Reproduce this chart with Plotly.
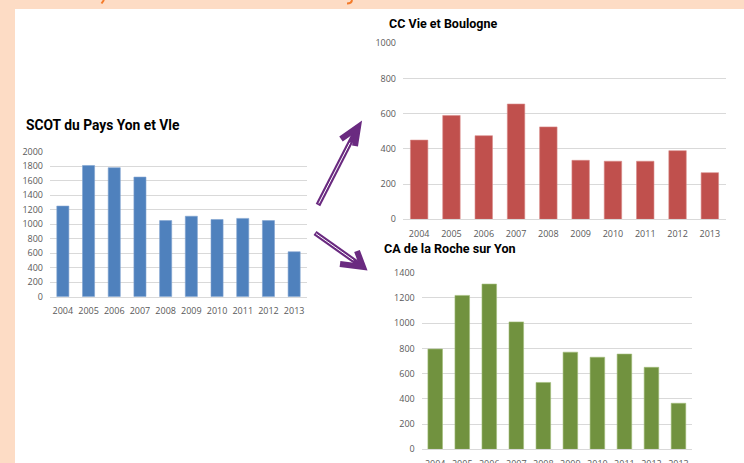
import plotly.graph_objects as go

W, H = 744, 463

years = ["2004", "2005", "2006", "2007", "2008", "2009", "2010", "2011", "2012", "2013"]
scot_values = [1250, 1810, 1780, 1650, 1050, 1110, 1065, 1080, 1050, 620]
ccvb_values = [450, 590, 475, 655, 525, 335, 330, 330, 390, 265]
carsy_values = [795, 1220, 1310, 1010, 530, 770, 730, 755, 650, 365]

scot_title = "SCOT du Pays Yon et Vle"
ccvb_title = "CC Vie et Boulogne"
carsy_title = "CA de la Roche sur Yon"

BLUE = "#4F81BD"
RED = "#C0504D"
GREEN = "#71923F"
PEACH = "#FDDCC5"
PURPLE = "#6A2A80"
GRID = "#D9D9D9"
TICK = "#595959"


def px(x):
    return x / W


def py(y):
    return (H - y) / H


fig = go.Figure()

fig.add_trace(go.Bar(x=years, y=scot_values, marker=dict(color=BLUE, line=dict(width=0.6, color="#7FA3D0")),
                     width=0.47, xaxis="x", yaxis="y"))
fig.add_trace(go.Bar(x=years, y=ccvb_values, marker=dict(color=RED, line=dict(width=0.6, color="#D98A88")),
                     width=0.54, xaxis="x2", yaxis="y2"))
fig.add_trace(go.Bar(x=years, y=carsy_values, marker=dict(color=GREEN, line=dict(width=0.6, color="#A3BD7A")),
                     width=0.54, xaxis="x3", yaxis="y3"))

tick_font = dict(family="Open Sans", size=9, color=TICK)

xcommon = dict(type="category", showgrid=False, zeroline=False, showline=True, automargin=False,
               linecolor=GRID, linewidth=1, ticks="", tickfont=tick_font, fixedrange=True)
ycommon = dict(showgrid=True, gridcolor=GRID, gridwidth=1, zeroline=False, showline=False,
               automargin=False, ticks="", tickfont=tick_font, fixedrange=True,
               ticklabelstandoff=6)

shapes = []
# peach frame around the white panel
shapes.append(dict(type="rect", xref="paper", yref="paper", x0=0, x1=1, y0=py(9), y1=1,
                   fillcolor=PEACH, line=dict(width=0), layer="below"))
shapes.append(dict(type="rect", xref="paper", yref="paper", x0=0, x1=px(15), y0=0, y1=1,
                   fillcolor=PEACH, line=dict(width=0), layer="below"))
# descenders of the heading cut by the panel edge
shapes.append(dict(type="path", xref="paper", yref="paper",
                   path=f"M {px(104)} {py(0)} L {px(101.5)} {py(3.5)}",
                   line=dict(color="#F47B2A", width=2)))
shapes.append(dict(type="path", xref="paper", yref="paper",
                   path=f"M {px(352)} {py(0)} Q {px(351.5)} {py(3.5)} {px(347)} {py(3.5)}",
                   line=dict(color="#F47B2A", width=2)))


def arrow(tail, tip, arm1, arm2):
    (x0, y0), (x1, y1) = tail, tip
    shaft = f"M {px(x0)} {py(y0)} L {px(x1)} {py(y1)}"
    head = (f"M {px(arm1[0])} {py(arm1[1])} L {px(x1)} {py(y1)} "
            f"L {px(arm2[0])} {py(arm2[1])}")
    inner = (f"M {px(x0 + (x1 - x0) * 0.02)} {py(y0 + (y1 - y0) * 0.02)} "
             f"L {px(x0 + (x1 - x0) * 0.80)} {py(y0 + (y1 - y0) * 0.80)}")
    return [
        dict(type="path", xref="paper", yref="paper", path=shaft,
             line=dict(color=PURPLE, width=5)),
        dict(type="path", xref="paper", yref="paper", path=head,
             line=dict(color=PURPLE, width=6)),
        dict(type="path", xref="paper", yref="paper", path=inner,
             line=dict(color="white", width=1)),
    ]


shapes += arrow((318, 205), (358, 127), (341, 139), (355, 146))
shapes += arrow((315, 233), (363, 267), (357, 251), (340, 264))

annotations = [
    dict(text=scot_title, xref="paper", yref="paper", x=px(24), y=py(125), xanchor="left",
         yanchor="middle", showarrow=False,
         font=dict(family="Roboto", size=13.8, color="black", weight="bold")),
    dict(text=ccvb_title, xref="paper", yref="paper", x=px(387), y=py(24), xanchor="left",
         yanchor="middle", showarrow=False,
         font=dict(family="Roboto", size=12.5, color="black", weight="bold")),
    dict(text=carsy_title, xref="paper", yref="paper", x=px(382), y=py(249), xanchor="left",
         yanchor="middle", showarrow=False,
         font=dict(family="Roboto", size=12.6, color="black", weight="bold")),
]

fig.update_layout(
    width=W, height=H,
    margin=dict(l=0, r=0, t=0, b=0),
    paper_bgcolor="white", plot_bgcolor="rgba(0,0,0,0)",
    showlegend=False,
    xaxis=dict(domain=[px(50), px(307)], anchor="y", ticklabelstandoff=5, **xcommon),
    yaxis=dict(domain=[py(296.7), py(151.7)], anchor="x", range=[0, 2000], dtick=200, **ycommon),
    xaxis2=dict(domain=[px(403), px(726)], anchor="y2", ticklabelstandoff=6, **xcommon),
    yaxis2=dict(domain=[py(219.3), py(43.3)], anchor="x2", range=[0, 1000], dtick=200, **ycommon),
    xaxis3=dict(domain=[px(421.7), px(692)], anchor="y3", ticklabelstandoff=6, **xcommon),
    yaxis3=dict(domain=[py(449.3), py(272.7)], anchor="x3", range=[0, 1400], dtick=200, **ycommon),
    shapes=shapes,
    annotations=annotations,
)

fig.write_html("out.html")
